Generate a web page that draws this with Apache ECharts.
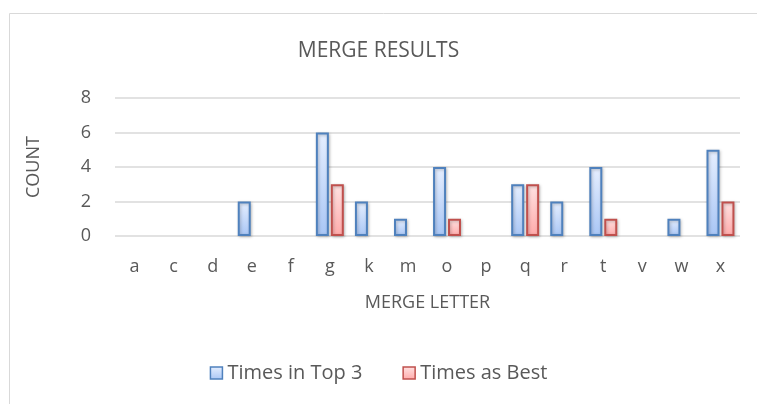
<!DOCTYPE html>
<html>
<head>
<meta charset="utf-8">
<script src="https://cdn.jsdelivr.net/npm/echarts@6/dist/echarts.min.js"></script>
<style>
html,body{margin:0;padding:0;background:#fff;}
#main{width:757px;height:404px;}
</style>
</head>
<body>
<div id="main"></div>
<script>
var letters = ['a','c','d','e','f','g','k','m','o','p','q','r','t','v','w','x'];
var top3 = [0,0,0,2,0,6,2,1,4,0,3,2,4,0,1,5];
var best = [0,0,0,0,0,3,0,0,1,0,3,0,1,0,0,2];
var seriesNames = ['Times in Top 3','Times as Best'];

// excel leaves zero bars empty
function noZero(arr){
	return arr.map(function(v){ return v === 0 ? null : v; });
}
function grad(a, b){
	return new echarts.graphic.LinearGradient(0,0,0,1,[{offset:0,color:a},{offset:1,color:b}]);
}
var font = 'Open Sans';
var txt = '#595959';
var blueFill = grad('#e6efff','#a9c6f5');
var redFill = grad('#ffe3e3','#ffaaaa');

var chart = echarts.init(document.getElementById('main'));
chart.setOption({
	animation:false,
	graphic:[{type:'rect',shape:{x:9.5,y:13.5,width:760,height:400},style:{fill:'none',stroke:'#d9d9d9',lineWidth:1}}],
	title:{text:'MERGE RESULTS',left:'center',top:36,textStyle:{fontFamily:font,fontWeight:'normal',fontSize:21,color:txt}},
	legend:{
		bottom:16,left:'center',itemWidth:12,itemHeight:12,itemGap:40,icon:'rect',
		textStyle:{fontFamily:font,fontSize:20,color:txt},
		data:[
			{name:seriesNames[0],itemStyle:{color:blueFill,borderColor:'#4f81bd',borderWidth:1.5}},
			{name:seriesNames[1],itemStyle:{color:redFill,borderColor:'#c0504d',borderWidth:1.5}}
		]
	},
	grid:{left:115,right:17,top:98,bottom:168,containLabel:false},
	xAxis:{
		type:'category',data:letters,
		name:'MERGE LETTER',nameLocation:'middle',nameGap:58,
		nameTextStyle:{fontFamily:font,fontSize:18,color:txt},
		axisLine:{show:false},axisTick:{show:false},
		axisLabel:{fontFamily:font,fontSize:18,color:txt,margin:22}
	},
	yAxis:{
		type:'value',min:0,max:8,interval:2,
		name:'COUNT',nameLocation:'middle',nameGap:72,nameRotate:90,
		nameTextStyle:{fontFamily:font,fontSize:18,color:txt},
		axisLabel:{fontFamily:font,fontSize:18,color:txt,margin:24},
		splitLine:{lineStyle:{color:'#d9d9d9',width:1.5}}
	},
	series:[
		{name:seriesNames[0],type:'bar',data:noZero(top3),barWidth:13,barGap:'15%',
			itemStyle:{color:blueFill,borderColor:'#4f81bd',borderWidth:2,shadowColor:'rgba(0,0,0,0.25)',shadowBlur:3,shadowOffsetX:1,shadowOffsetY:1}},
		{name:seriesNames[1],type:'bar',data:noZero(best),barWidth:13,
			itemStyle:{color:redFill,borderColor:'#c0504d',borderWidth:2,shadowColor:'rgba(0,0,0,0.25)',shadowBlur:3,shadowOffsetX:1,shadowOffsetY:1}}
	]
});
</script>
</body>
</html>
